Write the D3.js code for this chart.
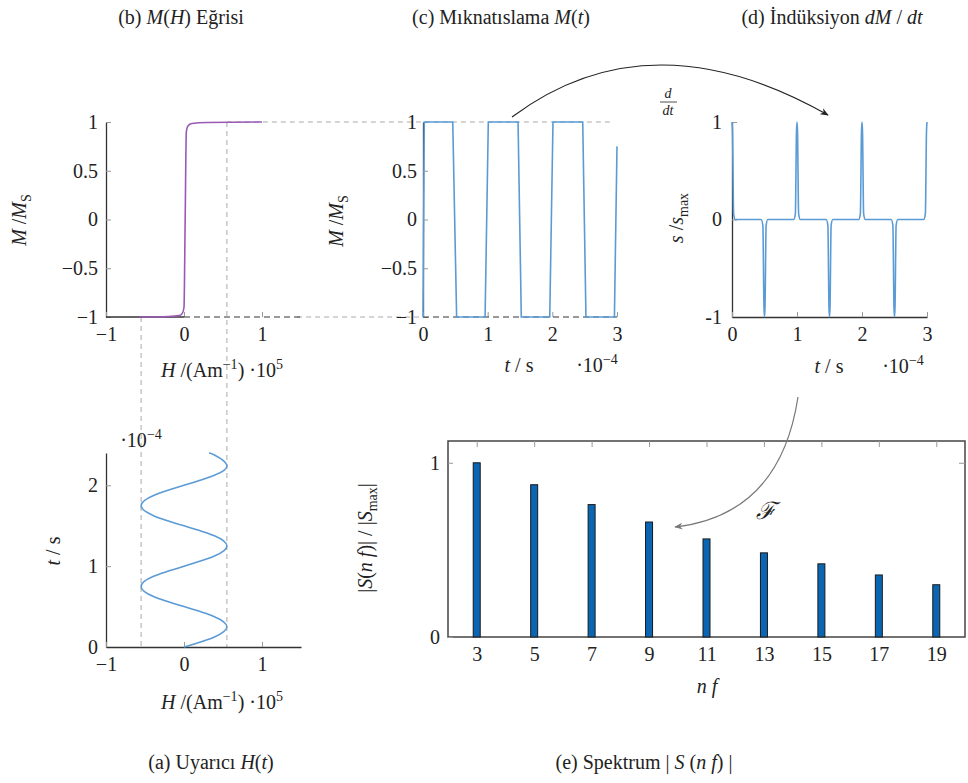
<!DOCTYPE html>
<html>
<head>
    <meta charset="utf-8">
    <title>M(H) / M(t) / dM/dt / Spektrum</title>
    <script src="https://d3js.org/d3.v7.min.js"></script>
    <style>
        body {
            margin: 0;
            background: #fff;
        }
        svg {
            display: block;
            font-family: "Liberation Serif", "Times New Roman", "DejaVu Serif", serif;
            font-variant-ligatures: none;
        }
    </style>
</head>
<body>
    <script>
        // Ticks
        const hTicks = [-1, 0, 1];
        const mTicks = [-1, -0.5, 0, 0.5, 1];
        const tTicks = [0, 1, 2, 3];
        const sTicks = [-1, 0, 1];
        const aTicks = [0, 1, 2];

        // (a) stimulus H(t), t in 1e-4 s, H in 1e5 A/m
        const stimTime = [0, 0.125, 0.25, 0.375, 0.5, 0.625, 0.75, 0.875, 1.0, 1.125, 1.25,
                          1.375, 1.5, 1.625, 1.75, 1.875, 2.0, 2.125, 2.25, 2.375, 2.4];
        const stimH = [0, 0.39, 0.55, 0.39, 0, -0.39, -0.55, -0.39, 0, 0.39, 0.55,
                       0.39, 0, -0.39, -0.55, -0.39, 0, 0.39, 0.55, 0.39, 0.32];

        // (b) M(H) curve
        const curveH = [-0.57, -0.2, -0.06, -0.02, 0, 0.015, 0.03, 0.05, 0.1, 0.3, 1.0];
        const curveM = [-1, -0.995, -0.985, -0.96, -0.9, 0, 0.9, 0.96, 0.985, 0.995, 1];

        // (c) magnetisation M(t)
        const magTime = [0, 0.02, 0.46, 0.52, 0.96, 1.01, 1.47, 1.52, 1.96, 2.01, 2.47, 2.52, 2.96, 3.0];
        const magM = [-1, 1, 1, -1, -1, 1, 1, -1, -1, 1, 1, -1, -1, 0.75];

        // (d) induction dM/dt
        const indTime = [0, 0.008, 0.025, 0.05,
                         0.45, 0.475, 0.492, 0.5, 0.508, 0.525, 0.55,
                         0.95, 0.975, 0.992, 1.0, 1.008, 1.025, 1.05,
                         1.45, 1.475, 1.492, 1.5, 1.508, 1.525, 1.55,
                         1.95, 1.975, 1.992, 2.0, 2.008, 2.025, 2.05,
                         2.45, 2.475, 2.492, 2.5, 2.508, 2.525, 2.55,
                         2.95, 2.975, 2.992, 3.0];
        const indS = [1, 0.9, 0.06, 0,
                      0, -0.06, -0.9, -1, -0.9, -0.06, 0,
                      0, 0.06, 0.9, 1, 0.9, 0.06, 0,
                      0, -0.06, -0.9, -1, -0.9, -0.06, 0,
                      0, 0.06, 0.9, 1, 0.9, 0.06, 0,
                      0, -0.06, -0.9, -1, -0.9, -0.06, 0,
                      0, 0.06, 0.9, 1];

        // (e) spectrum
        const harmonics = [3, 5, 7, 9, 11, 13, 15, 17, 19];
        const spectrum = [1.0, 0.874, 0.76, 0.66, 0.563, 0.483, 0.42, 0.356, 0.30];

        const SERIF = "Liberation Serif, Times New Roman, DejaVu Serif, serif";
        const INK = "#222";
        const BLUE = "#5b9bd5";
        const TICK_SIZE = 20;

        const svg = d3.select("body").append("svg")
            .attr("width", 968)
            .attr("height", 783);

        svg.append("defs").selectAll("marker")
            .data([["arrowBlack", "#222"], ["arrowGray", "#777"]])
            .enter().append("marker")
            .attr("id", d => d[0])
            .attr("viewBox", "0 0 10 10")
            .attr("refX", 9).attr("refY", 5)
            .attr("markerWidth", 7).attr("markerHeight", 7)
            .attr("orient", "auto")
            .append("path")
            .attr("d", "M0,1 L10,5 L0,9 L3,5 Z")
            .attr("fill", d => d[1]);

        // scales
        const xH = d3.scaleLinear().domain([-1, 1.5]).range([106, 301]);
        const yB = d3.scaleLinear().domain([-1, 1]).range([317, 122]);
        const xC = d3.scaleLinear().domain([0, 3]).range([423, 617]);
        const xD = d3.scaleLinear().domain([0, 3]).range([732, 927]);
        const yA = d3.scaleLinear().domain([0, 2.4]).range([647, 453]);
        const xE = d3.scaleLinear().domain([2, 20]).range([448, 965]);
        const yE = d3.scaleLinear().domain([0, 1.125]).range([637, 441]);

        const numFmt = d3.format("");

        function styleAxis(g) {
            g.attr("font-family", SERIF).attr("font-size", TICK_SIZE);
            g.select(".domain").attr("stroke", "#333").attr("stroke-width", 1.3);
            g.selectAll(".tick line").attr("stroke", "#999");
            g.selectAll(".tick text").attr("fill", INK);
            return g;
        }

        function leftAxis(scale, ticks, x, fmt, pad) {
            return styleAxis(svg.append("g")
                .attr("transform", `translate(${x},0)`)
                .call(d3.axisLeft(scale).tickValues(ticks).tickSize(-5).tickSizeOuter(0)
                    .tickPadding(pad || 8).tickFormat(fmt || numFmt)));
        }

        function bottomAxis(scale, ticks, y, keepDomain) {
            const g = styleAxis(svg.append("g")
                .attr("transform", `translate(0,${y})`)
                .call(d3.axisBottom(scale).tickValues(ticks).tickSize(-5).tickSizeOuter(0)
                    .tickPadding(10).tickFormat(numFmt)));
            if (!keepDomain) g.select(".domain").remove();
            return g;
        }

        // rich text: parts = [text, flags]; flags: i italic, ^ sup, _ sub
        function rich(x, y, parts, size, rotate, anchor) {
            const t = svg.append("text")
                .attr("x", x).attr("y", y)
                .attr("font-family", SERIF)
                .attr("font-size", size)
                .attr("fill", INK)
                .attr("text-anchor", anchor || "middle");
            if (rotate) t.attr("transform", `rotate(-90,${x},${y})`);
            let shift = 0;
            parts.forEach(p => {
                const f = p[1] || "";
                const s = t.append("tspan").text(p[0]);
                if (f.includes("i")) s.attr("font-style", "italic");
                let want = 0;
                if (f.includes("^")) { want = -0.42 * size; s.attr("font-size", size * 0.7); }
                if (f.includes("_")) { want = 0.25 * size; s.attr("font-size", size * 0.7); }
                if (want !== shift) { s.attr("dy", want - shift); shift = want; }
            });
            return t;
        }

        function dashLine(x1, y1, x2, y2, color, dash) {
            svg.append("line")
                .attr("x1", x1).attr("y1", y1).attr("x2", x2).attr("y2", y2)
                .attr("stroke", color || "#aaa")
                .attr("stroke-width", 1)
                .attr("stroke-dasharray", dash || "5,4");
        }

        // guide lines
        dashLine(xH(0.55), yB(1), xH(0.55), yA(0));
        dashLine(xH(-0.55), yB(-1), xH(-0.55), yA(0));
        dashLine(xH(0.55), yB(1), xC(2.95), yB(1));
        dashLine(xH(1.45), yB(-1), xC(0), yB(-1));

        // ---- (b) M(H)
        leftAxis(yB, mTicks, xH(-1));
        bottomAxis(xH, hTicks, yB(-1), false);
        svg.append("line")
            .attr("x1", xH(-1)).attr("x2", xH(0)).attr("y1", yB(-1)).attr("y2", yB(-1))
            .attr("stroke", "#333").attr("stroke-width", 1.3);
        dashLine(xH(0), yB(-1), xH(1.5), yB(-1), "#333", "6,4");

        svg.append("path")
            .datum(d3.zip(curveH, curveM))
            .attr("fill", "none")
            .attr("stroke", "#9b59b6")
            .attr("stroke-width", 1.6)
            .attr("d", d3.line().x(d => xH(d[0])).y(d => yB(d[1])).curve(d3.curveMonotoneX));

        rich(26, 220, [["M", "i"], [" /"], ["M", "i"], ["S", "_"]], 20, true);
        rich(222, 377, [["H", "i"], [" /(Am"], ["−1", "^"], [") ·10"], ["5", "^"]], 20);

        // ---- (a) H(t)
        leftAxis(yA, aTicks, xH(-1));
        bottomAxis(xH, hTicks, yA(0), true);
        svg.append("path")
            .datum(d3.zip(stimH, stimTime))
            .attr("fill", "none")
            .attr("stroke", BLUE)
            .attr("stroke-width", 1.6)
            .attr("d", d3.line().x(d => xH(d[0])).y(d => yA(d[1])).curve(d3.curveNatural));

        rich(60, 551, [["t", "i"], [" / s"]], 20, true);
        rich(141, 447, [["·10"], ["−4", "^"]], 20);
        rich(222, 709, [["H", "i"], [" /(Am"], ["−1", "^"], [") ·10"], ["5", "^"]], 20);

        // ---- (c) M(t)
        leftAxis(yB, mTicks, xC(0), null, 6);
        bottomAxis(xC, tTicks, yB(-1), false);
        dashLine(xC(0), yB(-1), xC(3), yB(-1), "#333", "6,4");
        svg.append("path")
            .datum(d3.zip(magTime, magM))
            .attr("fill", "none")
            .attr("stroke", BLUE)
            .attr("stroke-width", 1.6)
            .attr("d", d3.line().x(d => xC(d[0])).y(d => yB(d[1])));

        rich(343, 221, [["M", "i"], [" /"], ["M", "i"], ["S", "_"]], 20, true);
        rich(519, 372, [["t", "i"], [" / s"]], 20);
        rich(597, 372, [["·10"], ["−4", "^"]], 20);

        // ---- (d) dM/dt
        leftAxis(yB, sTicks, xD(0), d => String(d), 10);
        bottomAxis(xD, tTicks, yB(-1), true);
        svg.append("path")
            .datum(d3.zip(indTime, indS))
            .attr("fill", "none")
            .attr("stroke", BLUE)
            .attr("stroke-width", 1.6)
            .attr("d", d3.line().x(d => xD(d[0])).y(d => yB(d[1])).curve(d3.curveMonotoneX));

        rich(683, 218, [["s", "i"], [" /"], ["s", "i"], ["max", "_"]], 20, true);
        rich(829, 373, [["t", "i"], [" / s"]], 20);
        rich(903, 373, [["·10"], ["−4", "^"]], 20);

        rich(668, 98, [["d", "i"]], 14);
        svg.append("line").attr("x1", 660).attr("x2", 677).attr("y1", 102).attr("y2", 102)
            .attr("stroke", INK).attr("stroke-width", 0.8);
        rich(668, 115, [["dt", "i"]], 14);

        // ---- (e) spectrum
        svg.append("rect")
            .attr("x", xE(2)).attr("y", yE(1.125))
            .attr("width", xE(20) - xE(2)).attr("height", yE(0) - yE(1.125))
            .attr("fill", "none").attr("stroke", "#444").attr("stroke-width", 1.5);

        styleAxis(svg.append("g")
            .attr("transform", `translate(0,${yE(1.125)})`)
            .call(d3.axisTop(xE).tickValues(harmonics).tickSize(-6).tickFormat("")))
            .select(".domain").remove();
        styleAxis(svg.append("g")
            .attr("transform", `translate(${xE(20)},0)`)
            .call(d3.axisRight(yE).tickValues([1]).tickSize(-6).tickFormat("")))
            .select(".domain").remove();
        leftAxis(yE, [0, 1], xE(2), numFmt, 8).select(".domain").remove();
        bottomAxis(xE, harmonics, yE(0), false).selectAll(".tick line").remove();

        svg.append("g").selectAll("rect")
            .data(d3.zip(harmonics, spectrum))
            .enter().append("rect")
            .attr("x", d => xE(d[0]) - 3.5)
            .attr("y", d => yE(d[1]))
            .attr("width", 7)
            .attr("height", d => yE(0) - yE(d[1]))
            .attr("fill", "#0a66b2")
            .attr("stroke", "#1a1a1a")
            .attr("stroke-width", 1);

        rich(372, 538, [["|"], ["S", "i"], ["("], ["n f", "i"], [")| / |"], ["S", "i"], ["max", "_"], ["|"]], 20, true);
        rich(707, 693, [["n f", "i"]], 20);

        // arrows
        svg.append("path")
            .attr("d", "M512,117 Q650,14 828,115")
            .attr("fill", "none").attr("stroke", "#222").attr("stroke-width", 1.2)
            .attr("marker-end", "url(#arrowBlack)");
        svg.append("path")
            .attr("d", "M798,397 Q780,515 675,527")
            .attr("fill", "none").attr("stroke", "#777").attr("stroke-width", 1.2)
            .attr("marker-end", "url(#arrowGray)");
        rich(766, 519, [["ℱ", "i"]], 24);

        // captions
        const CAP = 20;
        rich(181, 24, [["(b) "], ["M", "i"], ["("], ["H", "i"], [")"], [" Eğrisi"]], CAP);
        rich(501, 24, [["(c) Mıknatıslama "], ["M", "i"], ["("], ["t", "i"], [")"]], CAP);
        rich(832, 24, [["(d) İndüksiyon "], ["dM", "i"], [" / "], ["dt", "i"]], CAP);
        rich(211, 769, [["(a) Uyarıcı "], ["H", "i"], ["("], ["t", "i"], [")"]], CAP);
        rich(644, 769, [["(e) Spektrum | "], ["S", "i"], [" ("], ["n f", "i"], [") |"]], CAP);
    </script>
</body>
</html>
